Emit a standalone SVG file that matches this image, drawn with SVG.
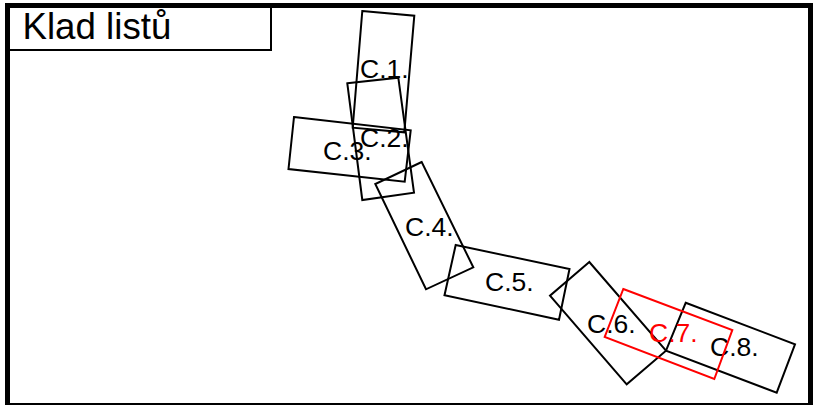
<svg xmlns="http://www.w3.org/2000/svg" width="817" height="405" viewBox="0 0 817 405">
<style>
text{font-family:"Liberation Sans",Arial,sans-serif;font-size:26.500px;fill:#000}
polygon{fill:none;stroke:#000;stroke-width:2}
.r polygon{stroke:#f00}
.r text{fill:#f00}
</style>
<rect width="817" height="405" fill="#fff"/>
<rect id="frame" x="7.500" y="5.500" width="803" height="400" fill="none" stroke="#000" stroke-width="5"/>
<g id="title"><rect x="9" y="7" width="262" height="43" fill="#fff" stroke="#000" stroke-width="2"/><text x="22.500" y="38.500" style="font-size:36.700px">Klad listů</text></g>
<g id="connectors"/>
<g id="c1"><polygon points="362.300,11 414.300,15.700 404.300,132.300 352.700,127.700"/><text x="360" y="78">C.1.</text></g>
<g id="c2"><polygon points="347.300,83.300 398.300,77.700 414,192.700 362.300,200"/><text x="360" y="147">C.2.</text></g>
<g id="c3"><polygon points="294,117 410.700,130.300 404.700,181.700 288.500,169"/><text x="323" y="160">C.3.</text></g>
<g id="c4"><polygon points="421.700,162 375.300,184 426,289.300 473.300,267.300"/><text x="405" y="236">C.4.</text></g>
<g id="c5"><polygon points="455.700,245 569.500,269 559,319.700 444.500,295.300"/><text x="485" y="291">C.5.</text></g>
<g id="c6"><polygon points="589.300,262 550,295.700 626.700,384.300 666,350.700"/><text x="587" y="333">C.6.</text></g>
<g id="c8"><polygon points="685.700,302.800 795,344.300 776.700,392.700 666,350.700"/><text x="710" y="356">C.8.</text></g>
<g id="c7" class="r"><polygon points="623.300,289 732.300,330 714.300,379 604.700,337"/><text x="649" y="342">C.7.</text></g>
</svg>
